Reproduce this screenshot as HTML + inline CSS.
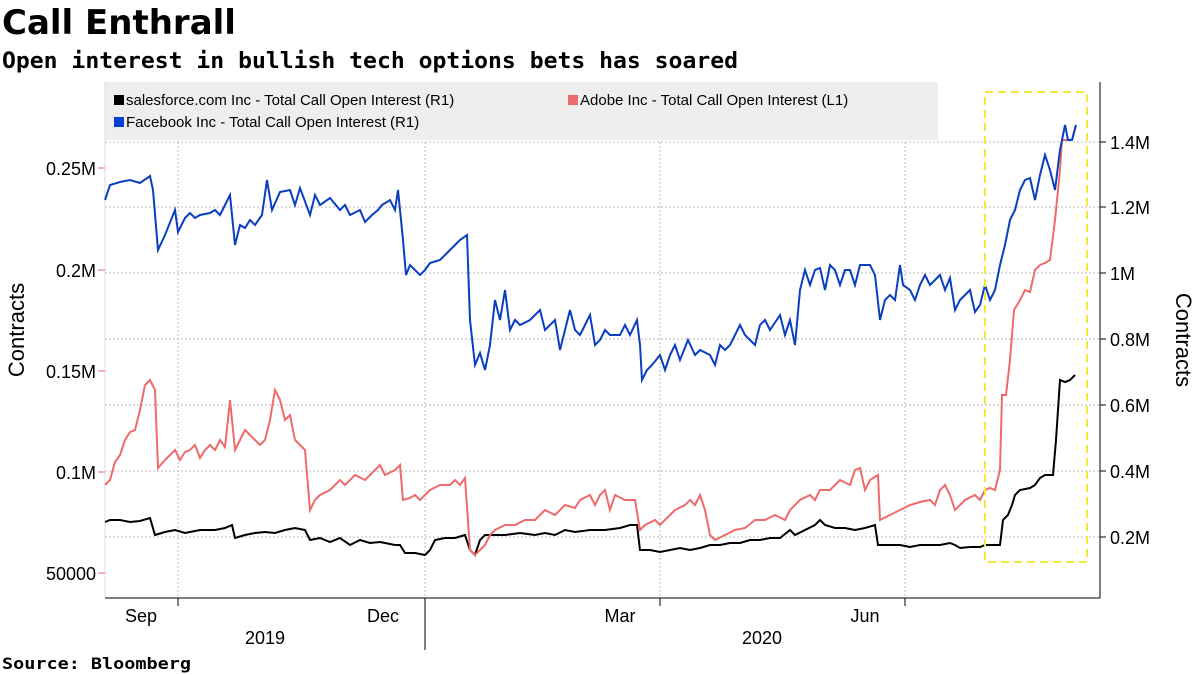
<!DOCTYPE html><html><head><meta charset="utf-8"><style>body{margin:0;background:#fff}svg{display:block;font-family:"Liberation Sans","DejaVu Sans",sans-serif}</style></head><body>
<svg width="1200" height="675" viewBox="0 0 1200 675">
<text x="2" y="34" font-size="34" font-weight="bold" font-family="DejaVu Sans">Call Enthrall</text>
<text x="2" y="68" font-size="22" font-weight="bold" font-family="DejaVu Sans Mono, monospace" textLength="736" lengthAdjust="spacingAndGlyphs">Open interest in bullish tech options bets has soared</text>
<g stroke="#bbb" stroke-dasharray="2,2" stroke-width="1">
<line x1="105" x2="1100" y1="142" y2="142"/><line x1="105" x2="1100" y1="207" y2="207"/><line x1="105" x2="1100" y1="273" y2="273"/><line x1="105" x2="1100" y1="339" y2="339"/><line x1="105" x2="1100" y1="405" y2="405"/><line x1="105" x2="1100" y1="471" y2="471"/><line x1="105" x2="1100" y1="537" y2="537"/>
<line x1="178" x2="178" y1="82" y2="598"/><line x1="425" x2="425" y1="82" y2="598"/><line x1="660" x2="660" y1="82" y2="598"/><line x1="905" x2="905" y1="82" y2="598"/>
</g>
<rect x="105" y="82" width="833" height="58" fill="#eeeeee"/>
<rect x="114" y="95" width="10" height="10" fill="#000"/><text x="126" y="105" font-size="15">salesforce.com Inc - Total Call Open Interest (R1)</text>
<rect x="568" y="95" width="10" height="10" fill="#ee6b6b"/><text x="580" y="105" font-size="15">Adobe Inc - Total Call Open Interest (L1)</text>
<rect x="114" y="117" width="10" height="10" fill="#0a3fd4"/><text x="126" y="127" font-size="15">Facebook Inc - Total Call Open Interest (R1)</text>
<line x1="105" y1="82" x2="105" y2="598" stroke="#ddd"/>
<line x1="1100" y1="82" x2="1100" y2="598" stroke="#000"/>
<line x1="105" y1="598" x2="1100" y2="598" stroke="#000"/>
<g stroke="#000"><line x1="1100" x2="1106" y1="142" y2="142"/><line x1="1100" x2="1106" y1="207" y2="207"/><line x1="1100" x2="1106" y1="273" y2="273"/><line x1="1100" x2="1106" y1="339" y2="339"/><line x1="1100" x2="1106" y1="405" y2="405"/><line x1="1100" x2="1106" y1="471" y2="471"/><line x1="1100" x2="1106" y1="537" y2="537"/>
<line x1="178" x2="178" y1="598" y2="606"/><line x1="425" x2="425" y1="598" y2="650"/><line x1="660" x2="660" y1="598" y2="606"/><line x1="905" x2="905" y1="598" y2="606"/></g>
<g stroke="#ee6b6b"><line x1="98" x2="105" y1="168" y2="168"/><line x1="98" x2="105" y1="270" y2="270"/><line x1="98" x2="105" y1="371" y2="371"/><line x1="98" x2="105" y1="472" y2="472"/><line x1="98" x2="105" y1="573" y2="573"/></g>
<g font-size="18" fill="#000"><text x="1110" y="149">1.4M</text><text x="1110" y="214">1.2M</text><text x="1110" y="280">1M</text><text x="1110" y="346">0.8M</text><text x="1110" y="412">0.6M</text><text x="1110" y="478">0.4M</text><text x="1110" y="544">0.2M</text>
<text x="96" y="175" text-anchor="end">0.25M</text><text x="96" y="277" text-anchor="end">0.2M</text><text x="96" y="378" text-anchor="end">0.15M</text><text x="96" y="479" text-anchor="end">0.1M</text><text x="96" y="580" text-anchor="end">50000</text>
<text x="141" y="622" text-anchor="middle">Sep</text><text x="383" y="622" text-anchor="middle">Dec</text><text x="620" y="622" text-anchor="middle">Mar</text><text x="865" y="622" text-anchor="middle">Jun</text>
<text x="265" y="644" text-anchor="middle">2019</text><text x="762" y="644" text-anchor="middle">2020</text></g>
<text transform="translate(24,330) rotate(-90)" font-size="22" text-anchor="middle">Contracts</text>
<text transform="translate(1176,340) rotate(90)" font-size="22" text-anchor="middle">Contracts</text>
<text x="2" y="669" font-size="16" font-weight="bold" font-family="DejaVu Sans Mono, monospace" textLength="189" lengthAdjust="spacingAndGlyphs">Source: Bloomberg</text>
<polyline fill="none" stroke="#000" stroke-width="2" points="105,522 110,520 120,520 130,522 140,521 150,518 155,535 165,532 175,530 185,533 200,530 215,530 225,528 232,525 235,538 245,535 255,533 265,532 275,533 285,530 295,528 305,530 310,540 320,538 330,542 340,538 350,545 360,540 370,543 380,542 395,545 400,545 405,553 415,553 425,555 430,550 435,540 445,538 455,538 465,535 470,550 475,555 480,540 485,535 495,535 505,535 520,533 535,535 545,533 555,535 565,530 575,532 590,530 605,530 620,528 630,525 637,525 640,550 650,550 660,552 670,550 680,548 690,550 700,548 710,545 720,545 730,543 740,543 750,540 760,540 770,538 780,538 790,530 795,535 805,530 815,525 820,520 825,525 835,528 845,528 855,530 865,528 875,525 878,545 890,545 900,545 910,547 920,545 930,545 940,545 950,543 955,545 960,548 970,547 980,547 985,545 1000,545 1003,520 1008,515 1012,505 1015,495 1020,490 1030,488 1035,485 1040,478 1045,475 1053,475 1056,440 1060,380 1065,382 1070,380 1075,375"/>
<polyline fill="none" stroke="#ee6b6b" stroke-width="2" points="105,485 110,480 115,462 120,455 125,440 130,432 135,430 140,410 145,385 150,380 155,390 158,468 165,460 170,455 175,450 180,460 185,452 190,450 195,445 200,458 205,450 210,445 215,450 220,440 225,447 230,400 232,420 235,450 240,440 245,430 255,440 260,445 265,440 270,420 275,390 280,400 285,420 290,415 295,440 300,445 305,450 310,510 315,500 320,495 330,490 340,480 345,485 355,475 365,480 375,470 380,465 385,475 395,470 400,465 403,500 410,498 415,495 420,500 425,495 430,490 440,485 450,485 455,480 460,485 465,478 470,550 475,555 480,550 485,545 490,535 495,530 505,525 515,525 525,520 535,520 545,510 555,515 565,505 575,508 580,500 590,495 595,505 600,495 605,490 610,510 615,495 625,500 635,500 640,530 645,525 655,520 660,525 670,515 675,510 685,505 690,500 695,505 700,495 705,510 710,535 715,540 725,535 735,530 745,528 755,520 765,520 775,515 785,520 790,510 800,500 810,495 815,500 820,490 830,490 840,480 850,485 855,470 860,468 865,490 870,480 878,475 880,520 890,515 900,510 910,505 920,502 930,500 935,505 940,490 945,485 950,495 955,510 965,500 975,495 980,500 985,490 990,488 995,490 1000,470 1002,395 1006,395 1010,360 1014,310 1020,300 1025,290 1030,292 1035,270 1040,265 1045,263 1050,260 1055,220 1060,170 1062,140 1068,140 1072,140 1076,125"/>
<polyline fill="none" stroke="#0a3fbf" stroke-width="2" points="105,200 110,185 120,182 130,180 140,183 150,176 153,190 158,250 165,235 175,210 178,232 185,218 190,213 195,218 200,215 210,213 215,210 220,215 230,195 235,245 240,225 245,228 250,220 255,225 262,215 267,180 272,210 280,192 290,190 295,205 300,188 310,215 315,195 320,205 330,198 340,210 345,205 350,215 360,210 365,222 372,215 378,210 382,205 390,200 395,210 398,190 403,240 406,275 410,265 420,275 425,270 430,263 440,260 450,250 455,245 460,240 467,235 470,320 475,365 480,353 485,370 490,345 495,300 500,320 505,290 510,330 515,320 520,325 530,320 540,310 545,330 555,320 560,350 565,330 570,310 575,330 580,335 590,315 595,345 600,340 605,330 610,335 620,335 625,325 630,335 637,320 640,345 642,380 647,370 652,365 660,355 665,370 670,355 675,345 680,360 688,340 695,355 700,350 710,355 715,365 720,345 725,350 730,345 740,325 745,335 755,345 760,325 765,320 770,330 780,315 785,335 790,320 795,345 800,290 805,270 810,285 815,270 820,268 825,290 830,265 835,270 840,285 845,270 850,270 855,285 860,265 870,265 875,275 880,320 885,300 890,295 895,300 900,265 903,285 910,290 915,300 920,285 925,275 930,285 940,275 945,290 950,278 955,310 960,300 970,290 975,312 980,305 985,285 990,300 995,290 1000,265 1005,245 1010,220 1015,210 1020,190 1025,180 1030,178 1035,200 1040,175 1045,155 1050,170 1055,190 1060,150 1065,125 1068,140 1072,140 1076,125"/>
<rect x="985" y="92" width="102" height="470" fill="none" stroke="#f5e83a" stroke-width="2" stroke-dasharray="8,5"/>
</svg></body></html>
